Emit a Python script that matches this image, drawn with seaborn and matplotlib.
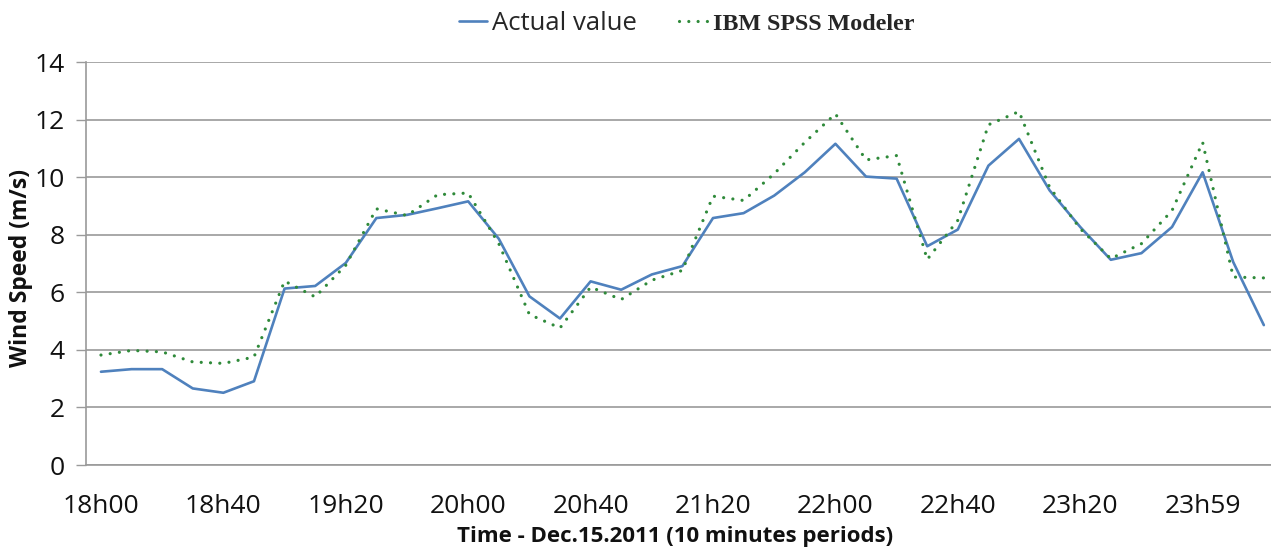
import matplotlib
matplotlib.use("Agg")
import matplotlib.pyplot as plt
import seaborn as sns
import numpy as np
import pandas as pd

# ---- data ----
actual_value = [3.24, 3.33, 3.33, 2.66, 2.51, 2.91, 6.13, 6.22, 7.02, 8.58,
                8.69, 8.92, 9.16, 7.86, 5.86, 5.09, 6.38, 6.09, 6.62, 6.91,
                8.58, 8.75, 9.36, 10.17, 11.16, 10.02, 9.95, 7.60, 8.18, 10.40,
                11.33, 9.54, 8.27, 7.13, 7.36, 8.27, 10.17, 7.05, 4.86]
spss_modeler = [3.82, 3.98, 3.93, 3.58, 3.53, 3.75, 6.39, 5.84, 6.94, 8.90,
                8.67, 9.39, 9.45, 7.69, 5.23, 4.76, 6.18, 5.75, 6.42, 6.76,
                9.34, 9.19, 10.12, 11.21, 12.20, 10.60, 10.75, 7.14, 8.50, 11.82,
                12.28, 9.65, 8.21, 7.17, 7.69, 8.84, 11.21, 6.53, 6.50]
tick_labels = ["18h00", "18h40", "19h20", "20h00", "20h40",
               "21h20", "22h00", "22h40", "23h20", "23h59"]
label_step = 4
series_names = ["Actual value", "IBM SPSS Modeler"]

period = np.arange(len(actual_value))
df = pd.DataFrame({"period": period, "actual": actual_value, "model": spss_modeler})

sns.set_style("white")
plt.rcParams["font.family"] = ["Open Sans", "DejaVu Sans"]

fig = plt.figure(figsize=(12.71, 5.49), dpi=100)
ax = fig.add_axes([0.0674, 0.153, 0.939, 0.734])

grid_col = "#9a9a9a"
blue = "#4f81bd"
green = "#2f8a3a"
txt = "#111111"

sns.lineplot(data=df, x="period", y="actual", ax=ax, color=blue, lw=1.9,
             label=series_names[0], sort=False, solid_capstyle="round")
sns.lineplot(data=df, x="period", y="model", ax=ax, color=green, lw=2.3,
             linestyle=(0, (0.01, 2.9)), dash_capstyle="round",
             label=series_names[1], sort=False)

ax.set_xlim(-0.5, len(actual_value) - 0.5)
ax.set_ylim(0, 14)
ax.set_yticks(np.arange(0, 15, 2))
ax.yaxis.grid(True, color=grid_col, lw=1.2)
ax.xaxis.grid(False)
ax.set_axisbelow(True)

for s in ["top", "right"]:
    ax.spines[s].set_visible(False)
for s in ["left", "bottom"]:
    ax.spines[s].set_color(grid_col)
    ax.spines[s].set_linewidth(1.2)

ax.set_xticks(period[::label_step])
ax.set_xticklabels(tick_labels)
ax.set_xticks(np.arange(-0.5, len(actual_value) + 0.5, 1), minor=True)
ax.tick_params(axis="x", which="major", length=0, pad=21, labelsize=19, labelcolor=txt)
ax.tick_params(axis="x", which="minor", length=7.5, width=1.0, color=grid_col, direction="out")
ax.tick_params(axis="y", which="major", left=True, length=7, width=1.0, color=grid_col,
               pad=8, labelsize=19, labelcolor=txt, direction="out")

ax.set_xlabel("Time - Dec.15.2011 (10 minutes periods)", fontsize=16, fontweight="bold",
              color=txt)
ax.set_ylabel("Wind Speed (m/s)", fontsize=16.5, fontweight="bold", color=txt)
ax_w_px = 0.939 * 1271
ax_h_px = 0.734 * 549
ax.xaxis.set_label_coords((675 - 85.7) / ax_w_px, -(526 - 465) / ax_h_px)
ax.yaxis.set_label_coords(-(85.7 - 21) / ax_w_px, (465 - 268) / ax_h_px)
ax.yaxis.label.set_va("center")

if ax.legend_:
    ax.legend_.remove()
handles, labels = ax.get_legend_handles_labels()
leg = fig.legend(handles, labels, loc="center", bbox_to_anchor=(0.540, 0.957), ncol=2,
                 frameon=False, fontsize=18.5, handlelength=1.1, handletextpad=0.2,
                 columnspacing=1.65)
t2 = leg.get_texts()[1]
t2.set_fontfamily("Liberation Serif")
t2.set_fontweight("bold")
t2.set_fontsize(17.3)

fig.savefig("out.png", dpi=100)
